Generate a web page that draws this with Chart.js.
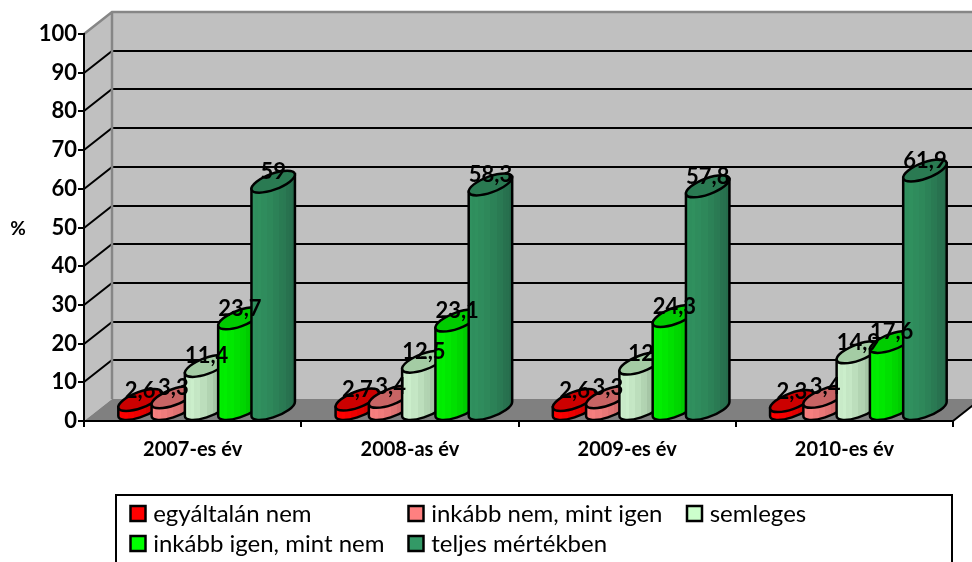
<!DOCTYPE html>
<html>
<head>
<meta charset="utf-8">
<style>
  html, body { margin: 0; padding: 0; background: #fff; }
  canvas { display: block; }
</style>
<script src="https://cdn.jsdelivr.net/npm/chart.js@4/dist/chart.umd.min.js"></script>
</head>
<body>
<canvas id="chart" width="972" height="562"></canvas>
<script>
const categories = ['2007-es év', '2008-as év', '2009-es év', '2010-es év'];
const egyaltalanNem = [2.6, 2.7, 2.6, 2.3];
const inkabbNem = [3.3, 3.4, 3.3, 3.4];
const semleges = [11.4, 12.5, 12, 14.9];
const inkabbIgen = [23.7, 23.1, 24.3, 17.6];
const teljesMertekben = [59, 58.3, 57.8, 61.9];
const yTicks = [0, 10, 20, 30, 40, 50, 60, 70, 80, 90, 100];

const fontName = 'Lato, "Open Sans", sans-serif';
const depthX = 28;
const depthY = 22;
const wallColor = '#c0c0c0';
const floorColor = '#808080';
const edgeColor = '#868686';

// [legend colour, left of side, right of side, top]
const red = ['#ff0000', '#ff0000', '#b80000', '#cc0000'];
const pink = ['#ff8080', '#f88080', '#b85c5c', '#c86464'];
const pale = ['#ccffcc', '#cdf0cd', '#8aa98a', '#a4cca4'];
const green = ['#00ff00', '#00f000', '#00b000', '#00cc00'];
const darkGreen = ['#339966', '#30915f', '#266b4b', '#2a7a52'];

function mix(a, b, t) {
  const p = c => [1, 3, 5].map(i => parseInt(c.substr(i, 2), 16));
  const ca = p(a), cb = p(b);
  return 'rgb(' + ca.map((v, i) => Math.round(v + (cb[i] - v) * t)).join(',') + ')';
}

function drawCylinder(ctx, el, colors) {
  const w = el.width;
  const cx = el.x + depthX / 2;
  const topY = el.y - depthY / 2;
  const baseY = el.base - depthY / 2;
  const t0 = Math.atan2(depthX, w);
  const half = Math.hypot(w, depthX) / 2;
  const rise = Math.sin(t0) * depthY / 2;

  const arc = (cy, from, to, ccw) => {
    ctx.save();
    ctx.transform(w / 2, 0, depthX / 2, -depthY / 2, cx, cy);
    ctx.arc(0, 0, 1, from, to, ccw);
    ctx.restore();
  };

  // side, with the stepped shading of the original
  const grad = ctx.createLinearGradient(cx - half, 0, cx + half, 0);
  const steps = 14;
  for (let i = 0; i < steps; i++) {
    const shade = Math.pow(i / (steps - 1), 1.8) + (i % 2 ? 0.07 : 0);
    const c = mix(colors[1], colors[2], Math.min(shade, 1));
    grad.addColorStop(i / steps, c);
    grad.addColorStop((i + 1) / steps, c);
  }
  ctx.beginPath();
  arc(baseY, t0, t0 - Math.PI, true);
  ctx.lineTo(cx - half, topY + rise);
  ctx.lineTo(cx + half, topY - rise);
  ctx.closePath();
  ctx.fillStyle = grad;
  ctx.fill();
  ctx.lineWidth = 2.5;
  ctx.strokeStyle = '#000';
  ctx.stroke();

  // top
  ctx.beginPath();
  arc(topY, 0, Math.PI * 2, false);
  ctx.closePath();
  ctx.fillStyle = colors[3];
  ctx.fill();
  ctx.stroke();
}

const scene = {
  id: 'scene',
  beforeDraw(chart) {
    const { ctx, chartArea: a, scales: { y } } = chart;
    const backL = a.left + depthX, backT = a.top - depthY, backB = a.bottom - depthY;
    ctx.save();
    // walls and floor
    ctx.fillStyle = wallColor;
    ctx.fillRect(backL, backT, chart.width - backL, backB - backT);
    ctx.beginPath();
    ctx.moveTo(a.left, a.top);
    ctx.lineTo(backL, backT);
    ctx.lineTo(backL, backB);
    ctx.lineTo(a.left, a.bottom);
    ctx.closePath();
    ctx.fill();
    ctx.beginPath();
    ctx.moveTo(a.left, a.bottom);
    ctx.lineTo(backL, backB);
    ctx.lineTo(a.right + depthX, backB);
    ctx.lineTo(a.right, a.bottom);
    ctx.closePath();
    ctx.fillStyle = floorColor;
    ctx.fill();
    // gridlines
    ctx.lineWidth = 2;
    ctx.strokeStyle = '#000';
    yTicks.slice(1, -1).forEach(v => {
      const py = Math.round(y.getPixelForValue(v));
      ctx.beginPath();
      ctx.moveTo(a.left, py);
      ctx.lineTo(backL, py - depthY);
      ctx.lineTo(chart.width, py - depthY);
      ctx.stroke();
    });
    // wall edges
    ctx.lineWidth = 2.5;
    ctx.strokeStyle = edgeColor;
    ctx.beginPath();
    ctx.moveTo(a.left, a.top);
    ctx.lineTo(backL, backT);
    ctx.lineTo(chart.width, backT);
    ctx.moveTo(backL, backT);
    ctx.lineTo(backL, backB);
    ctx.stroke();
    ctx.beginPath();
    ctx.strokeStyle = '#000';
    ctx.lineWidth = 2;
    ctx.moveTo(a.right, a.bottom);
    ctx.lineTo(a.right + depthX, backB);
    ctx.stroke();
    // percent sign
    ctx.fillStyle = '#000';
    ctx.font = 'bold 19px ' + fontName;
    ctx.textAlign = 'center';
    ctx.textBaseline = 'middle';
    ctx.fillText('%', 18, 229);
    ctx.restore();
  },
  afterDatasetsDraw(chart) {
    const { ctx } = chart;
    ctx.save();
    const metas = chart.data.datasets.map((d, i) => chart.getDatasetMeta(i));
    metas.forEach((meta, i) => {
      meta.data.forEach(el => drawCylinder(ctx, el, chart.data.datasets[i].shades));
    });
    ctx.fillStyle = '#000';
    ctx.font = 'bold 22px ' + fontName;
    ctx.textAlign = 'center';
    ctx.textBaseline = 'middle';
    metas.forEach((meta, i) => {
      meta.data.forEach((el, j) => {
        const text = String(chart.data.datasets[i].data[j]).replace('.', ',');
        ctx.fillText(text, el.x + depthX / 2, el.y - 20.5);
      });
    });
    ctx.restore();
  },
  afterDraw(chart) {
    const { ctx } = chart;
    const columns = [130.5, 408.5, 687];
    const rows = [522, 552];
    ctx.save();
    ctx.strokeStyle = '#000';
    ctx.lineWidth = 2;
    ctx.fillStyle = '#fff';
    ctx.beginPath();
    ctx.rect(116, 495, 836, 80);
    ctx.fill();
    ctx.stroke();
    ctx.font = '24px ' + fontName;
    ctx.textAlign = 'left';
    ctx.textBaseline = 'alphabetic';
    chart.data.datasets.forEach((d, i) => {
      const col = i < 3 ? i : i - 3;
      const row = i < 3 ? 0 : 1;
      const x = columns[col], y = rows[row];
      ctx.fillStyle = d.shades[0];
      ctx.fillRect(x, y - 16, 15, 15);
      ctx.strokeStyle = '#000';
      ctx.lineWidth = 2.5;
      ctx.strokeRect(x, y - 16, 15, 15);
      ctx.fillStyle = '#000';
      ctx.fillText(d.label, x + 22.7, y);
    });
    ctx.restore();
  }
};

const makeSet = (label, data, shades) => ({
  label, data, shades,
  backgroundColor: 'transparent',
  borderWidth: 0,
  categoryPercentage: 0.766,
  barPercentage: 1
});

new Chart(document.getElementById('chart'), {
  type: 'bar',
  data: {
    labels: categories,
    datasets: [
      makeSet('egyáltalán nem', egyaltalanNem, red),
      makeSet('inkább nem, mint igen', inkabbNem, pink),
      makeSet('semleges', semleges, pale),
      makeSet('inkább igen, mint nem', inkabbIgen, green),
      makeSet('teljes mértékben', teljesMertekben, darkGreen)
    ]
  },
  options: {
    responsive: false,
    animation: false,
    layout: { padding: { top: 34, right: 19, left: 0, bottom: 0 } },
    plugins: { legend: { display: false }, tooltip: { enabled: false } },
    scales: {
      x: {
        afterFit: s => { s.height = 141; },
        border: { color: '#000', width: 2 },
        grid: { drawOnChartArea: false, color: '#000', lineWidth: 2, tickLength: 6 },
        ticks: { color: '#000', font: { family: fontName, size: 20, weight: 'bold' }, padding: 11, maxRotation: 0 }
      },
      y: {
        min: 0,
        max: 100,
        afterFit: s => { s.width = 84; },
        afterBuildTicks: s => { s.ticks = yTicks.map(value => ({ value })); },
        border: { color: '#000', width: 2 },
        grid: { drawOnChartArea: false, color: '#000', lineWidth: 2, tickLength: 6 },
        ticks: { color: '#000', font: { family: fontName, size: 22, weight: 'bold' }, padding: 1 }
      }
    }
  },
  plugins: [scene]
});
</script>
</body>
</html>
